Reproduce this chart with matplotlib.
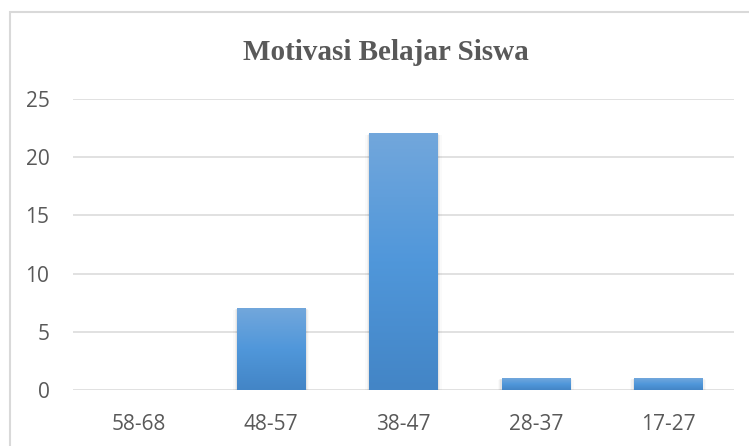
import numpy as np
import matplotlib.pyplot as plt
from matplotlib.colors import LinearSegmentedColormap
from matplotlib.patches import Rectangle

# Data
categories = ['58-68', '48-57', '38-47', '28-37', '17-27']
values = [0, 7, 22, 1, 1]
title = 'Motivasi Belajar Siswa'

text_color = '#595959'
grid_color = '#d9d9d9'
bar_cmap = LinearSegmentedColormap.from_list('bar', ['#4385c6', '#5097da', '#72a7dc'])

fig = plt.figure(figsize=(7.49, 4.46), dpi=100)
ax = fig.add_axes([73 / 749, 1 - 390 / 446, 661 / 749, 291 / 446])

x = np.arange(len(categories))
bar_width = 0.515
bars = ax.bar(x, values, width=bar_width, color='none', zorder=3)

# gradient fill + soft shadow for each bar
gradient = np.linspace(0, 1, 256).reshape(-1, 1)
for rect in bars:
    h = rect.get_height()
    if h <= 0:
        continue
    x0 = rect.get_x()
    w = rect.get_width()
    for i, a in enumerate([0.05, 0.035, 0.02]):
        d = 0.01 * (i + 1)
        ax.add_patch(Rectangle((x0 - d, -0.12 * (i + 1)), w + 2 * d, h + 0.08 * (i + 1),
                               facecolor='#000000', alpha=a, edgecolor='none', zorder=2))
    ax.imshow(gradient, cmap=bar_cmap, aspect='auto', origin='lower',
              extent=[x0, x0 + w, 0, h], zorder=3)

ax.set_xlim(-0.5, len(categories) - 0.5)
ax.set_ylim(0, 25)
ax.set_yticks(range(0, 26, 5))
ax.set_xticks(x)
ax.set_xticklabels(categories)

ax.yaxis.grid(True, color=grid_color, linewidth=1.1, zorder=0)
ax.set_axisbelow(True)
for s in ax.spines.values():
    s.set_visible(False)
ax.tick_params(axis='both', length=0, labelsize=15, labelcolor=text_color)
ax.tick_params(axis='y', pad=17)
ax.tick_params(axis='x', pad=17)
for lbl in ax.get_xticklabels() + ax.get_yticklabels():
    lbl.set_fontfamily('Open Sans')

fig.text(386 / 749, 1 - 52 / 446, title, ha='center', va='center',
         fontsize=21, fontweight='bold', color=text_color, family='Liberation Serif')

# chart area border (only top and left visible in the crop)
fig.add_artist(Rectangle((9.5 / 749, -0.1), 1.2, 1 - 11.5 / 446 + 0.1,
                         transform=fig.transFigure, facecolor='none',
                         edgecolor='#d9d9d9', linewidth=1.5))

fig.savefig('out.png', dpi=100)
